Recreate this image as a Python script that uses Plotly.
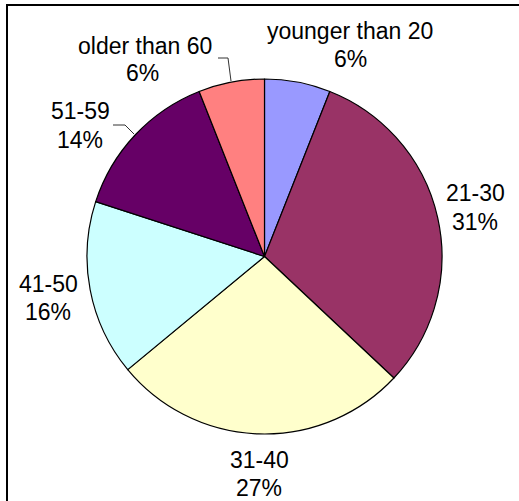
import plotly.graph_objects as go

# Data
categories = ["younger than 20", "21-30", "31-40", "41-50", "51-59", "older than 60"]
values = [6, 31, 27, 16, 14, 6]
colors = ["#9999FF", "#993366", "#FFFFCC", "#CCFFFF", "#660066", "#FF8080"]

W, H = 519, 501


def px(x):
    return x / W


def py(y):
    return 1 - y / H


total = sum(values)
percents = [f"{round(v / total * 100)}%" for v in values]

fig = go.Figure(
    go.Pie(
        labels=categories,
        values=values,
        marker=dict(colors=colors, line=dict(color="black", width=1.2)),
        sort=False,
        direction="clockwise",
        rotation=0,
        textinfo="none",
        hoverinfo="label+percent",
        showlegend=False,
        domain=dict(x=[px(87), px(442)], y=[py(434), py(79)]),
    )
)

# label positions (centre of name line, centre of percent line), in pixels
label_pos = {
    "younger than 20": ((350, 31), (350, 59)),
    "21-30": ((475, 193), (475, 222)),
    "31-40": ((259, 460), (259, 488)),
    "41-50": ((48, 284), (48, 312)),
    "51-59": ((80, 111), (80, 140)),
    "older than 60": ((145, 46), (142, 73)),
}

font = dict(family="Liberation Sans, Arial, sans-serif", size=23, color="black")
annotations = []
for cat, pct in zip(categories, percents):
    (x1, y1), (x2, y2) = label_pos[cat]
    annotations.append(dict(x=px(x1), y=py(y1), xref="paper", yref="paper", text=cat,
                            showarrow=False, xanchor="center", yanchor="middle", font=font))
    annotations.append(dict(x=px(x2), y=py(y2), xref="paper", yref="paper", text=pct,
                            showarrow=False, xanchor="center", yanchor="middle", font=font))


def path(points):
    s = "M " + " L ".join(f"{px(a)},{py(b)}" for a, b in points)
    return s


shapes = [
    # frame
    dict(type="rect", xref="paper", yref="paper", x0=px(7), y0=py(5), x1=px(530), y1=py(515),
         line=dict(color="black", width=2)),
    # leader lines
    dict(type="path", xref="paper", yref="paper", path=path([(218, 58), (228, 58), (231, 81)]),
         line=dict(color="#333333", width=1)),
    dict(type="path", xref="paper", yref="paper", path=path([(113, 125), (125, 125), (134, 134)]),
         line=dict(color="#333333", width=1)),
]

fig.update_layout(
    width=W,
    height=H,
    margin=dict(l=0, r=0, t=0, b=0),
    paper_bgcolor="white",
    plot_bgcolor="white",
    annotations=annotations,
    shapes=shapes,
)

fig.write_html(
    "out.html",
    config={"displayModeBar": False},
    post_script="document.body.style.margin='0px';document.body.style.overflow='hidden';",
)
